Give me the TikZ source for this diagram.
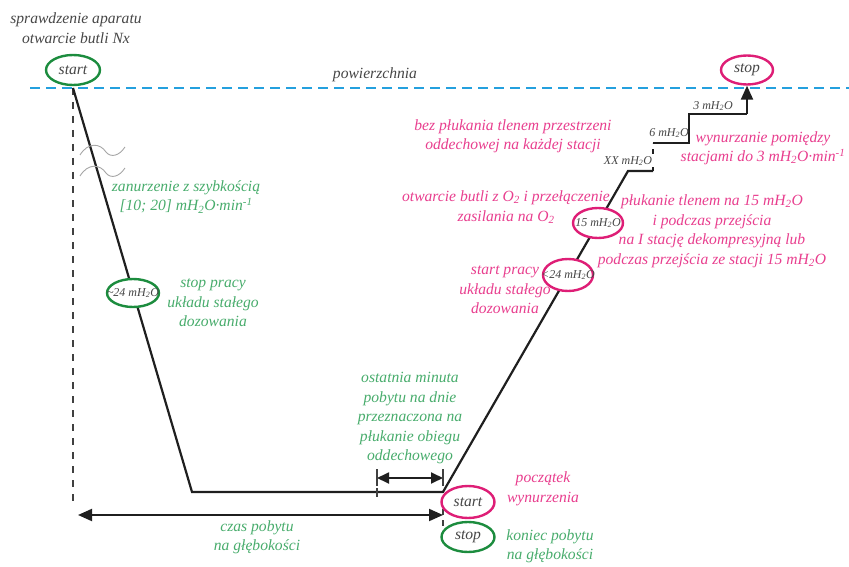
\documentclass[tikz,border=0pt]{standalone}
\usepackage{fontspec}
\setmainfont{Liberation Serif}
\usetikzlibrary{shapes.geometric,arrows.meta}
\definecolor{gtxt}{RGB}{72,172,108}
\definecolor{gline}{RGB}{28,140,62}
\definecolor{ptxt}{RGB}{232,62,142}
\definecolor{pline}{RGB}{222,30,118}
\definecolor{sea}{RGB}{36,160,222}
\definecolor{dtxt}{RGB}{70,70,70}
\newcommand{\mhzo}{mH\textsubscript{2}O}
\begin{document}
\begin{tikzpicture}[x=1pt,y=-1pt,
  font=\itshape\fontsize{15.6}{19.5}\selectfont,
  ell/.style={ellipse, draw, fill=white, line width=2.4pt, minimum width=54pt, minimum height=30pt, inner sep=0pt, text=dtxt},
  gl/.style={text=gtxt, align=center, inner sep=0pt},
  pl/.style={text=ptxt, align=center, inner sep=0pt},
  dl/.style={text=dtxt, align=center, inner sep=0pt},
  small/.style={font=\itshape\fontsize{12}{13}\selectfont},
  prof/.style={line width=2.2pt, black!88},
  guide/.style={line width=1.6pt, black!75, dash pattern=on 7pt off 7pt},
  bigtip/.style={{Triangle[length=14pt,width=12pt]}-{Triangle[length=14pt,width=12pt]}},
  wave/.style={line width=0.9pt, black!35}]
\useasboundingbox (0,0) rectangle (849,567);

% surface
\coordinate (sL) at (30,88);
\coordinate (sR) at (849,88);
\draw[sea, line width=2.2pt, dash pattern=on 10pt off 6pt] (sL) -- (sR);
\node[dl] (surf) at (375,75) {powierzchnia};

% guide lines
\coordinate (d0) at (73,88);
\coordinate (g0) at (73,508);
\coordinate (g1) at (443,498);
\coordinate (g2) at (443,530);
\draw[guide] (d0) -- (g0);
\draw[guide, dash pattern=on 6pt off 5pt] (g1) -- (g2);

% profile
\coordinate (d1) at (192,492);
\coordinate (a0) at (443,492);
\coordinate (a1) at (628,171);
\coordinate (a2) at (653,171);
\coordinate (a3) at (653,143);
\coordinate (a4) at (689,143);
\coordinate (a5) at (689,114);
\coordinate (a6) at (747,114);
\draw[prof, line join=miter] (d0) -- (d1) -- (a0) -- (a1) -- (a2);
\draw[prof, dash pattern=on 4pt off 13pt on 5pt off 6pt] (a2) -- (a3);
\draw[prof, line join=miter] (a3) -- (a4) -- (a5) -- (a6);

% break marks
\coordinate (w1a) at (80,155);
\coordinate (w1b) at (125,147);
\coordinate (w2a) at (80,176);
\coordinate (w2b) at (125,168);
\draw[wave] (w1a) .. controls (88,142) and (100,143) .. (106,152) .. controls (111,158) and (119,156) .. (w1b);
\draw[wave] (w2a) .. controls (88,163) and (100,164) .. (106,173) .. controls (111,179) and (119,177) .. (w2b);

% ellipses
\node[ell, draw=gline] (startA) at (73,70) {start};
\node[ell, draw=pline, minimum width=52pt, minimum height=29pt] (stopS) at (747,70) {stop};
\draw[prof, -{Triangle[length=14pt,width=12pt]}] (a6) -- (stopS.south);
\node[ell, draw=gline, minimum width=52pt, minimum height=28pt] (e24g) at (133,293) {};
\node[dl, small] (t24g) at (e24g) {\textasciitilde24 \mhzo};
\node[ell, draw=pline, minimum width=50pt, minimum height=32pt] (e24p) at (568,275) {};
\node[dl, small] (t24p) at (e24p) {<24 \mhzo};
\node[ell, draw=pline, minimum width=50pt, minimum height=30pt] (e15) at (598,223) {};
\node[dl, small] (t15) at (e15) {15 \mhzo};
\node[ell, draw=pline, minimum width=53pt, minimum height=32pt] (startB) at (468,502) {start};
\node[ell, draw=gline, minimum width=53pt, minimum height=30pt] (stopB) at (468,537) {stop};

% step labels
\node[dl, small] (lxx) at (628,161) {XX \mhzo};
\node[dl, small] (l6) at (669,133) {6 \mhzo};
\node[dl, small] (l3) at (713,106) {3 \mhzo};

% last minute arrow
\coordinate (m0) at (377,478);
\coordinate (m1) at (443,478);
\coordinate (m0t) at (377,469);
\coordinate (m0b) at (377,486);
\coordinate (m1t) at (443,469);
\coordinate (m1b) at (443,486);
\coordinate (t0) at (377,488);
\coordinate (t1) at (377,497);
\draw[prof, line width=1.8pt, {Triangle[length=12pt,width=11pt]}-{Triangle[length=12pt,width=11pt]}] (m0) -- (m1);
\draw[line width=1.3pt, black!75] (m0t) -- (m0b) (m1t) -- (m1b) (t0) -- (t1);

% bottom time arrow
\coordinate (b0) at (78,515);
\coordinate (b1) at (443,515);
\draw[prof, line width=2pt, bigtip] (b0) -- (b1);

% texts
\node[dl] (chk) at (76,28) {sprawdzenie aparatu\\otwarcie butli Nx};
\node[gl] (zan) at (186,197) {zanurzenie z szybkością\\{[}10; 20] \mhzo·min\textsuperscript{-1}};
\node[gl] (stp) at (213,303) {stop pracy\\układu stałego\\dozowania};
\node[gl] (ost) at (410,418) {ostatnia minuta\\pobytu na dnie\\przeznaczona na\\płukanie obiegu\\oddechowego};
\node[pl] (pocz) at (543,489) {początek\\wynurzenia};
\node[gl] (kon) at (550,546) {koniec pobytu\\na głębokości};
\node[gl] (czas) at (257,537) {czas pobytu\\na głębokości};
\node[pl] (bez) at (513,136) {bez płukania tlenem przestrzeni\\oddechowej na każdej stacji};
\node[pl] (otw) at (506,207) {otwarcie butli z O\textsubscript{2} i przełączenie\\zasilania na O\textsubscript{2}};
\node[pl] (spr) at (505,290) {start pracy\\układu stałego\\dozowania};
\node[pl] (plu) at (712,231) {płukanie tlenem na 15 \mhzo\\i podczas przejścia\\na I stację dekompresyjną lub\\podczas przejścia ze stacji 15 \mhzo};
\node[pl] (wyn) at (763,148) {wynurzanie pomiędzy\\stacjami do 3 \mhzo·min\textsuperscript{-1}};
\end{tikzpicture}
\end{document}
